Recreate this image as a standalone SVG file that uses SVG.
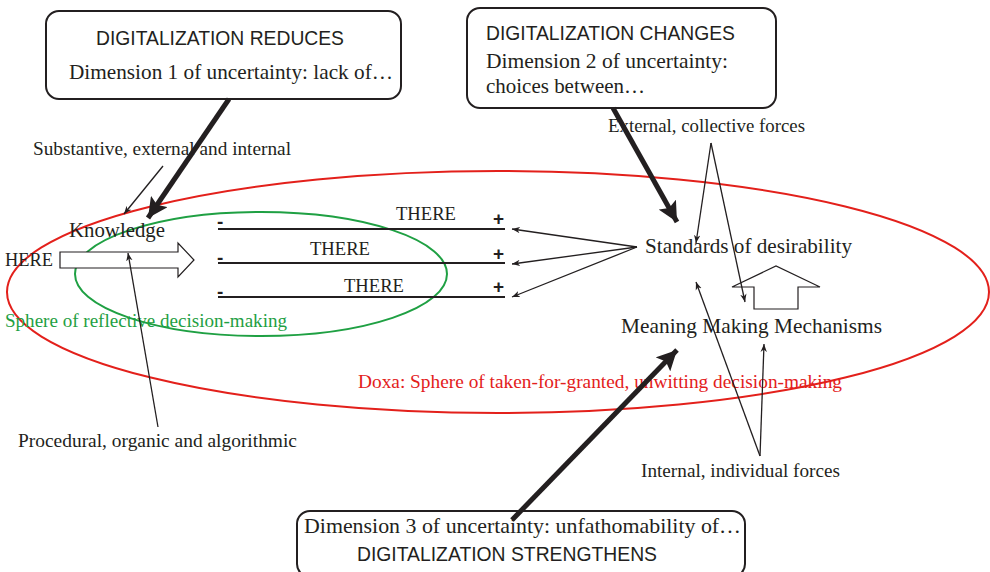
<svg xmlns="http://www.w3.org/2000/svg" width="990" height="572" viewBox="0 0 990 572">
  <style>
    .serif { font-family: "Liberation Serif", "Times New Roman", serif; fill: #231f20; }
    .sans { font-family: "Liberation Sans", Arial, sans-serif; fill: #231f20; }
    .box { fill: #ffffff; stroke: #231f20; stroke-width: 2; }
    .thin { stroke: #231f20; stroke-width: 1.3; fill: none; }
    .thick { stroke: #231f20; stroke-width: 5; fill: none; }
    .bar { stroke: #231f20; stroke-width: 1.8; }
    .hollow { fill: #ffffff; stroke: #231f20; stroke-width: 1.2; }
    .sign { font-family: "Liberation Sans", Arial, sans-serif; fill: #231f20; font-size: 19px; font-weight: bold; }
  </style>
  <defs>
    <marker id="tip" viewBox="0 0 10 10" refX="10" refY="5" markerWidth="8" markerHeight="8" markerUnits="userSpaceOnUse" orient="auto">
      <path d="M0,1 L10,5 L0,9 L3,5 Z" fill="#231f20"/>
    </marker>
    <marker id="bigtip" viewBox="0 0 10 10" refX="10" refY="5" markerWidth="4" markerHeight="4" orient="auto">
      <path d="M0,0 L10,5 L0,10 L2,5 Z" fill="#231f20"/>
    </marker>
  </defs>

  <!-- spheres -->
  <g id="doxa">
    <ellipse cx="498" cy="292" rx="491" ry="121" fill="none" stroke="#e3201b" stroke-width="2"/>
    <text class="serif" x="358" y="388" font-size="19.3" textLength="484" lengthAdjust="spacingAndGlyphs" style="fill:#e3201b">Doxa: Sphere of taken-for-granted, unwitting decision-making</text>
  </g>
  <g id="reflective">
    <ellipse cx="261" cy="274" rx="186" ry="62" fill="none" stroke="#1fa043" stroke-width="2"/>
    <text class="serif" x="5" y="327" font-size="19" textLength="282" lengthAdjust="spacingAndGlyphs" style="fill:#1fa043">Sphere of reflective decision-making</text>
  </g>

  <!-- uncertainty boxes -->
  <g id="box-reduces">
    <rect class="box" x="46" y="11" width="355" height="88" rx="13"/>
    <text class="sans" x="96" y="45" font-size="19.3" textLength="248" lengthAdjust="spacingAndGlyphs">DIGITALIZATION REDUCES</text>
    <text class="serif" x="69" y="79" font-size="21.4" textLength="324" lengthAdjust="spacingAndGlyphs">Dimension 1 of uncertainty: lack of…</text>
  </g>
  <g id="box-changes">
    <rect class="box" x="467" y="8" width="309" height="100" rx="13"/>
    <text class="sans" x="486" y="40" font-size="19.3" textLength="249" lengthAdjust="spacingAndGlyphs">DIGITALIZATION CHANGES</text>
    <text class="serif" x="486" y="68" font-size="21.4" textLength="242" lengthAdjust="spacingAndGlyphs">Dimension 2 of uncertainty:</text>
    <text class="serif" x="486" y="93" font-size="21.4" textLength="159" lengthAdjust="spacingAndGlyphs">choices between…</text>
  </g>
  <g id="box-strengthens">
    <rect class="box" x="297" y="511" width="448" height="66" rx="13"/>
    <text class="serif" x="304" y="533" font-size="21.4" textLength="437" lengthAdjust="spacingAndGlyphs">Dimension 3 of uncertainty: unfathomability of…</text>
    <text class="sans" x="357" y="561" font-size="19.3" textLength="300" lengthAdjust="spacingAndGlyphs">DIGITALIZATION STRENGTHENS</text>
  </g>

  <!-- knowledge -->
  <g id="knowledge">
    <text class="serif" x="69" y="237" font-size="21" textLength="96" lengthAdjust="spacingAndGlyphs">Knowledge</text>
  </g>
  <g id="knowledge-types">
    <text class="serif" x="33" y="155" font-size="19.3" textLength="258" lengthAdjust="spacingAndGlyphs">Substantive, external and internal</text>
    <text class="serif" x="18" y="447" font-size="19.3" textLength="279" lengthAdjust="spacingAndGlyphs">Procedural, organic and algorithmic</text>
  </g>

  <!-- here to there -->
  <g id="here">
    <text class="serif" x="5" y="266" font-size="18.6" textLength="48" lengthAdjust="spacingAndGlyphs">HERE</text>
    <polygon class="hollow" points="60,252 178,252 178,243 194,260 178,277 178,268 60,268"/>
  </g>
  <g id="there-1">
    <line class="bar" x1="218" y1="229" x2="505" y2="229"/>
    <text class="sign" x="217" y="228">-</text>
    <text class="sign" x="493" y="225">+</text>
    <text class="serif" x="396" y="220" font-size="18.8" textLength="60" lengthAdjust="spacingAndGlyphs">THERE</text>
  </g>
  <g id="there-2">
    <line class="bar" x1="218" y1="263" x2="505" y2="263"/>
    <text class="sign" x="217" y="264">-</text>
    <text class="sign" x="493" y="260">+</text>
    <text class="serif" x="310" y="255" font-size="18.8" textLength="60" lengthAdjust="spacingAndGlyphs">THERE</text>
  </g>
  <g id="there-3">
    <line class="bar" x1="218" y1="297" x2="505" y2="297"/>
    <text class="sign" x="217" y="298">-</text>
    <text class="sign" x="493" y="293">+</text>
    <text class="serif" x="344" y="292" font-size="18.8" textLength="60" lengthAdjust="spacingAndGlyphs">THERE</text>
  </g>

  <!-- standards and mechanisms -->
  <g id="standards">
    <text class="serif" x="645" y="253" font-size="21.2" textLength="207" lengthAdjust="spacingAndGlyphs">Standards of desirability</text>
  </g>
  <g id="mechanisms">
    <text class="serif" x="621" y="333" font-size="21.4" textLength="261" lengthAdjust="spacingAndGlyphs">Meaning Making Mechanisms</text>
    <polygon class="hollow" points="732,287 776,266 820,287 798,287 798,309 754,309 754,287"/>
  </g>
  <g id="forces">
    <text class="serif" x="608" y="132" font-size="18.8" textLength="197" lengthAdjust="spacingAndGlyphs">External, collective forces</text>
    <text class="serif" x="641" y="477" font-size="19.2" textLength="199" lengthAdjust="spacingAndGlyphs">Internal, individual forces</text>
  </g>

  <!-- connectors -->
  <g id="connectors">
    <line class="thin" x1="163" y1="166" x2="124" y2="214" marker-end="url(#tip)"/>
    <line class="thin" x1="158" y1="427" x2="128" y2="253" marker-end="url(#tip)"/>
    <line class="thin" x1="637" y1="247" x2="512" y2="229" marker-end="url(#tip)"/>
    <line class="thin" x1="637" y1="247" x2="512" y2="264" marker-end="url(#tip)"/>
    <line class="thin" x1="637" y1="247" x2="512" y2="297" marker-end="url(#tip)"/>
    <line class="thin" x1="711" y1="143" x2="696" y2="243" marker-end="url(#tip)"/>
    <line class="thin" x1="711" y1="143" x2="745" y2="302" marker-end="url(#tip)"/>
    <line class="thin" x1="760" y1="456" x2="696" y2="282" marker-end="url(#tip)"/>
    <line class="thin" x1="760" y1="456" x2="764" y2="344" marker-end="url(#tip)"/>
    <line class="thick" x1="229" y1="99" x2="148" y2="218" marker-end="url(#bigtip)"/>
    <line class="thick" x1="613" y1="108" x2="677" y2="222" marker-end="url(#bigtip)"/>
    <line class="thick" x1="512" y1="520" x2="677" y2="350" marker-end="url(#bigtip)"/>
  </g>
</svg>
